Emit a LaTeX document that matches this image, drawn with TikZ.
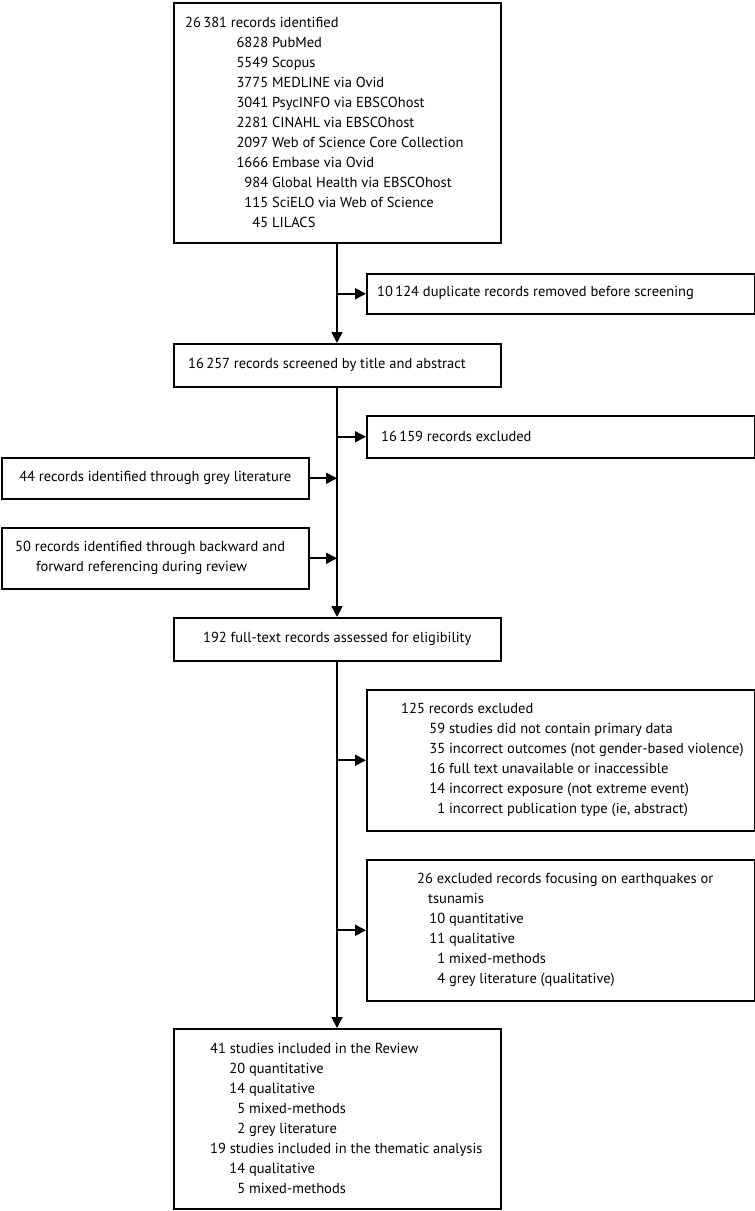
\documentclass[tikz,border=0pt]{standalone}
\usepackage{fontspec}
\setmainfont{PT Sans}
\usetikzlibrary{arrows.meta}
\newcommand{\rw}[3][83]{\makebox[#1pt][r]{#2}\ #3}
\begin{document}
\begin{tikzpicture}[x=1pt,y=-1pt,
  box/.style={draw, line width=1.5pt, inner sep=0pt, anchor=north west},
  txt/.style={anchor=west, align=left, inner sep=0pt, font=\fontsize{14.5}{20}\selectfont},
  ctxt/.style={anchor=center, align=center, inner sep=0pt, font=\fontsize{14.5}{20}\selectfont},
  arr/.style={line width=1.8pt, -{Triangle[length=11pt,width=11pt]}}]
\useasboundingbox (0,0) rectangle (755,1211);
\coordinate (mx) at (337,0);
% boxes
\node[box, minimum width=327pt, minimum height=240pt] (b1) at (173,2) {};
\node[box, minimum width=388pt, minimum height=40pt] (b2) at (366,273) {};
\node[box, minimum width=327pt, minimum height=43pt] (b3) at (173,343) {};
\node[box, minimum width=388pt, minimum height=42pt] (b4) at (366,415) {};
\node[box, minimum width=307pt, minimum height=41pt] (b5) at (1,457) {};
\node[box, minimum width=307pt, minimum height=61pt] (b6) at (1,527) {};
\node[box, minimum width=327pt, minimum height=43pt] (b7) at (173,617) {};
\node[box, minimum width=388pt, minimum height=141pt] (b8) at (366,689) {};
\node[box, minimum width=388pt, minimum height=141pt] (b9) at (366,859) {};
\node[box, minimum width=327pt, minimum height=180pt] (b10) at (173,1028) {};
% texts
\node[txt] (t1) at (185,122) {26\,381 records identified\\
\rw{6828}{PubMed}\\
\rw{5549}{Scopus}\\
\rw{3775}{MEDLINE via Ovid}\\
\rw{3041}{PsycINFO via EBSCOhost}\\
\rw{2281}{CINAHL via EBSCOhost}\\
\rw{2097}{Web of Science Core Collection}\\
\rw{1666}{Embase via Ovid}\\
\rw{984}{Global Health via EBSCOhost}\\
\rw{115}{SciELO via Web of Science}\\
\rw{45}{LILACS}};
\node[txt] (t2) at (377,293) {10\,124 duplicate records removed before screening};
\node[txt] (t3) at (188,364.5) {16\,257 records screened by title and abstract};
\node[txt] (t4) at (381,436) {16\,159 records excluded};
\node[ctxt] (t5) at (b5.center) {44 records identified through grey literature};
\node[txt] (t6) at (15,557.5) {50 records identified through backward and\\\hspace*{21pt}forward referencing during review};
\node[ctxt] (t7) at (b7.center) {192 full-text records assessed for eligibility};
\node[txt] (t8) at (401,759.5) {125 records excluded\\
\rw[44]{59}{studies did not contain primary data}\\
\rw[44]{35}{incorrect outcomes (not gender-based violence)}\\
\rw[44]{16}{full text unavailable or inaccessible}\\
\rw[44]{14}{incorrect exposure (not extreme event)}\\
\rw[44]{1}{incorrect publication type (ie, abstract)}};
\node[txt] (t9) at (417,929.5) {26 excluded records focusing on earthquakes or\\
\hspace*{11pt}tsunamis\\
\rw[28]{10}{quantitative}\\
\rw[28]{11}{qualitative}\\
\rw[28]{1}{mixed-methods}\\
\rw[28]{4}{grey literature (qualitative)}};
\node[txt] (t10) at (210,1118) {41 studies included in the Review\\
\rw[35]{20}{quantitative}\\
\rw[35]{14}{qualitative}\\
\rw[35]{5}{mixed-methods}\\
\rw[35]{2}{grey literature}\\
19 studies included in the thematic analysis\\
\rw[35]{14}{qualitative}\\
\rw[35]{5}{mixed-methods}};
% connectors
\draw[arr] (b1.south -| mx) -- (b3.north -| mx);
\draw[arr] (b2.west -| mx) -- (b2.west);
\draw[arr] (b3.south -| mx) -- (b7.north -| mx);
\draw[arr] (b4.west -| mx) -- (b4.west);
\draw[arr] (b5.east) -- (b5.east -| mx);
\draw[arr] (b6.east) -- (b6.east -| mx);
\draw[arr] (b7.south -| mx) -- (b10.north -| mx);
\draw[arr] (b8.west -| mx) -- (b8.west);
\draw[arr] (b9.west -| mx) -- (b9.west);
\end{tikzpicture}
\end{document}
